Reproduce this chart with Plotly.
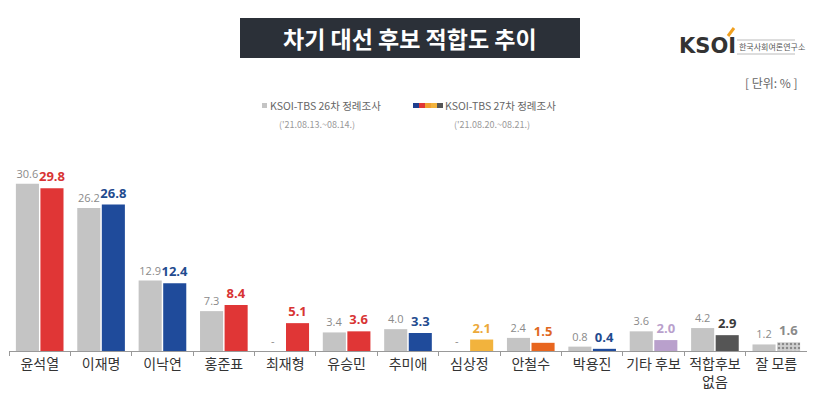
import plotly.graph_objects as go

categories = ["윤석열", "이재명", "이낙연", "홍준표", "최재형", "유승민", "추미애",
              "심상정", "안철수", "박용진", "기타 후보", "적합후보<br>없음", "잘 모름"]
survey26 = [30.6, 26.2, 12.9, 7.3, None, 3.4, 4.0, None, 2.4, 0.8, 3.6, 4.2, 1.2]
survey27 = [29.8, 26.8, 12.4, 8.4, 5.1, 3.6, 3.3, 2.1, 1.5, 0.4, 2.0, 2.9, 1.6]
colors27 = ["#e03636", "#1f4b9b", "#1f4b9b", "#e03636", "#e03636", "#e03636", "#1f4b9b",
            "#f2b33d", "#e8661f", "#1f4b9b", "#b9a0cc", "#555555", "#d0d0d0"]
labelcolors27 = ["#d83434", "#1f4b8f", "#1f4b8f", "#d83434", "#d83434", "#d83434", "#1f4b8f",
                 "#eca93a", "#e0681f", "#1f4b8f", "#b9a0cc", "#3a3a3a", "#8a8a8a"]
patterns27 = [""] * 12 + ["."]

# page body has an 8px margin, so the figure is 8px smaller and offset
OFF = 8
W, H = 815 - OFF, 395 - OFF
FONT = "Noto Sans CJK KR"

def fx(px):
    return (px - OFF) / W

def fy(py):
    return 1 - (py - OFF) / H

text26 = ["-" if v is None else f"{v:.1f}" for v in survey26]
vals26 = [0 if v is None else v for v in survey26]
text27 = [f"<b>{v:.1f}</b>" for v in survey27]

fig = go.Figure()
fig.add_trace(go.Bar(
    x=categories, y=vals26, text=text26, textposition="outside",
    textfont=dict(family="Open Sans", size=11, color="#8a8a8a"),
    marker=dict(color="#c4c4c4", line=dict(width=0)),
    constraintext="none", cliponaxis=False, name="26", textangle=0,
))
fig.add_trace(go.Bar(
    x=categories, y=survey27, text=text27, textposition="outside",
    textfont=dict(family="Open Sans", size=13, color=labelcolors27),
    marker=dict(color=colors27, line=dict(width=0),
                pattern=dict(shape=patterns27, fgcolor="#a8a8a8", size=4, solidity=0.3)),
    constraintext="none", cliponaxis=False, name="27", textangle=0,
))

shapes = []
annotations = []

# Title box
shapes.append(dict(type="rect", xref="paper", yref="paper",
                   x0=fx(240), x1=fx(580), y0=fy(58), y1=fy(18),
                   fillcolor="#2b3038", line=dict(width=0), layer="above"))
annotations.append(dict(text="<b>차기 대선 후보 적합도 추이</b>", xref="paper", yref="paper",
                        x=fx(410), y=fy(38), showarrow=False,
                        font=dict(family=FONT, size=23, color="white"),
                        xanchor="center", yanchor="middle"))

# Logo
annotations.append(dict(text="<b>KSOI</b>", xref="paper", yref="paper",
                        x=fx(677), y=fy(46), showarrow=False, xanchor="left", yanchor="middle",
                        font=dict(family="DejaVu Sans", size=21, color="#333333")))
shapes.append(dict(type="line", xref="paper", yref="paper",
                   x0=fx(728), x1=fx(734), y0=fy(36), y1=fy(28),
                   line=dict(color="#f0a020", width=3)))
annotations.append(dict(text="한국사회여론연구소", xref="paper", yref="paper",
                        x=fx(737), y=fy(47), showarrow=False, xanchor="left", yanchor="middle",
                        font=dict(family=FONT, size=8, color="#555555")))
shapes.append(dict(type="line", xref="paper", yref="paper",
                   x0=fx(737), x1=fx(795), y0=fy(40), y1=fy(40),
                   line=dict(color="#bbbbbb", width=1)))
shapes.append(dict(type="line", xref="paper", yref="paper",
                   x0=fx(737), x1=fx(795), y0=fy(54), y1=fy(54),
                   line=dict(color="#bbbbbb", width=1)))

# Unit
annotations.append(dict(text="[ 단위: % ]", xref="paper", yref="paper",
                        x=fx(800), y=fy(82), showarrow=False, xanchor="right", yanchor="middle",
                        font=dict(family=FONT, size=12, color="#666666")))

# Legend
shapes.append(dict(type="rect", xref="paper", yref="paper",
                   x0=fx(262), x1=fx(267), y0=fy(108), y1=fy(103),
                   fillcolor="#c4c4c4", line=dict(width=0)))
annotations.append(dict(text="KSOI-TBS 26차 정례조사", xref="paper", yref="paper",
                        x=fx(268), y=fy(106), showarrow=False, xanchor="left", yanchor="middle",
                        font=dict(family=FONT, size=10.5, color="#666666")))
annotations.append(dict(text="('21.08.13.~08.14.)", xref="paper", yref="paper",
                        x=fx(317), y=fy(124), showarrow=False, xanchor="center", yanchor="middle",
                        font=dict(family=FONT, size=9, color="#999999")))
sq = ["#1f3f8f", "#e03636", "#f0a030", "#f2b33d", "#555555"]
for i, c in enumerate(sq):
    shapes.append(dict(type="rect", xref="paper", yref="paper",
                       x0=fx(413 + i * 6), x1=fx(419 + i * 6), y0=fy(108), y1=fy(103),
                       fillcolor=c, line=dict(width=0)))
annotations.append(dict(text="KSOI-TBS 27차 정례조사", xref="paper", yref="paper",
                        x=fx(443), y=fy(106), showarrow=False, xanchor="left", yanchor="middle",
                        font=dict(family=FONT, size=10.5, color="#666666")))
annotations.append(dict(text="('21.08.20.~08.21.)", xref="paper", yref="paper",
                        x=fx(492), y=fy(124), showarrow=False, xanchor="center", yanchor="middle",
                        font=dict(family=FONT, size=9, color="#999999")))

fig.update_layout(
    width=W, height=H, margin=dict(l=0, r=0, t=0, b=0),
    paper_bgcolor="white", plot_bgcolor="white",
    barmode="group", bargap=0.2, bargroupgap=0.06,
    showlegend=False, shapes=shapes, annotations=annotations,
    xaxis=dict(domain=[fx(9), fx(807)], showline=True, linecolor="#999999", linewidth=1,
               ticks="outside", tickson="boundaries", ticklen=4, tickcolor="#999999",
               tickangle=0, automargin=False,
               tickfont=dict(family=FONT, size=14, color="#333333"), showgrid=False),
    yaxis=dict(domain=[fy(351), fy(150)], range=[0, 36.8], visible=False, showgrid=False),
)

fig.write_html("out.html")
